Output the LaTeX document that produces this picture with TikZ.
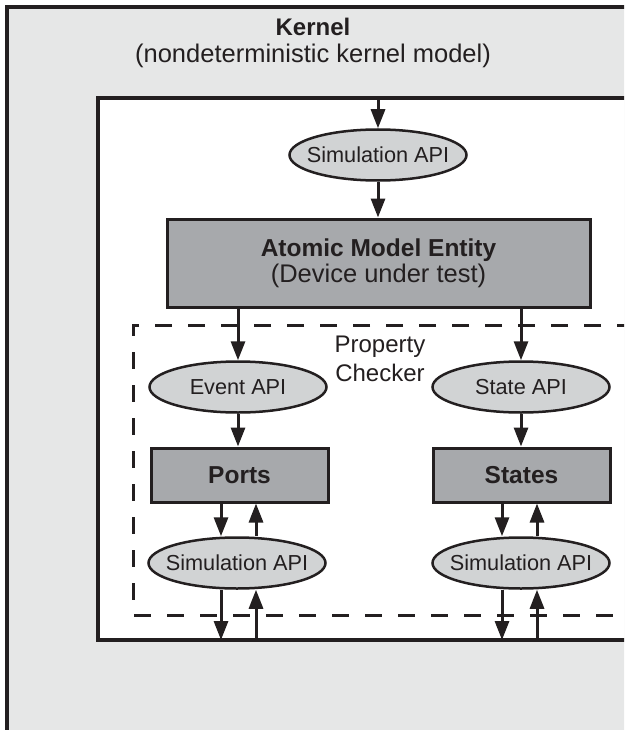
\documentclass[tikz,border=0pt]{standalone}
\usepackage{fontspec}
\setmainfont{Liberation Sans}
\usetikzlibrary{arrows.meta,shapes.geometric}
\definecolor{ink}{HTML}{231F20}
\definecolor{kernelgray}{HTML}{E6E7E7}
\definecolor{apigray}{HTML}{D1D3D4}
\definecolor{boxgray}{HTML}{A7A9AC}
% text that does not widen the ellipse around it
\newcommand{\apilabel}[1]{\makebox[0pt]{#1}}

\begin{document}
\begin{tikzpicture}[x=1pt,y=-1pt,
  every node/.style={text=ink,font=\fontsize{21.7}{26.5}\selectfont},
  api/.style={ellipse, draw=ink, line width=2.5pt, fill=apigray,
    minimum width=177pt, minimum height=51pt, inner sep=0pt},
  unit/.style={rectangle, draw=ink, line width=3pt, fill=boxgray, inner sep=0pt,
    font=\bfseries\fontsize{24.5}{26}\selectfont},
  flow/.style={draw=ink, line width=3pt, -{Triangle[length=19pt,width=14pt]}},
  frame/.style={draw=ink, line width=3.3pt},
  checkerline/.style={draw=ink, line width=3pt, dash pattern=on 17pt off 16pt},
]
\useasboundingbox (0,0) rectangle (624,730);

% kernel, simulator frame and property checker outline
\begin{scope}
  \clip (0,0) rectangle (624,730);
  \filldraw[frame, fill=kernelgray] (7,7) rectangle (700,800);
  \filldraw[frame, fill=white] (98,98) rectangle (700,640);
  \draw[checkerline] (700,325) -- (133,325) -- (133,615) -- (700,615);
\end{scope}

\node[anchor=base, font=\bfseries\fontsize{24}{26}\selectfont] (kernel) at (313,36) {Kernel};
\node[anchor=base, font=\fontsize{25.5}{26}\selectfont] (kerneldesc) at (313,63) {(nondeterministic kernel model)};

% device under test
\node[api] (simtop) at (378,155) {\apilabel{Simulation API}};
\node[unit, minimum width=423pt, minimum height=88pt, align=center] (dut) at (378.5,263)
  {Atomic Model Entity\\{\mdseries\fontsize{25.5}{26}\selectfont (Device under test)}};

% property checker
\node[align=center, font=\fontsize{24}{29}\selectfont] (checker) at (380,359) {Property\\Checker};
\node[api] (eventapi) at (238,387) {\apilabel{Event API}};
\node[api] (stateapi) at (521,387) {\apilabel{State API}};
\node[unit, minimum width=177pt, minimum height=54pt] (ports) at (239.5,475) {Ports};
\node[unit, minimum width=177pt, minimum height=54pt] (states) at (521.5,475) {States};
\node[api] (simports) at (237,563) {\apilabel{Simulation API}};
\node[api] (simstates) at (521,563) {\apilabel{Simulation API}};

% links to the kernel
\coordinate (kernelin) at (378,98);
\coordinate (portsout) at (221,640);
\coordinate (portsin) at (256,640);
\coordinate (statesout) at (502,640);
\coordinate (statesin) at (537,640);

% connectors
\draw[flow] (kernelin) -- (simtop.north);
\draw[flow] (simtop.south) -- (simtop.south |- dut.north);
\draw[flow] (eventapi |- dut.south) -- (eventapi.north);
\draw[flow] (stateapi |- dut.south) -- (stateapi.north);
\draw[flow] (eventapi.south) -- (eventapi.south |- ports.north);
\draw[flow] (stateapi.south) -- (stateapi.south |- states.north);

\draw[flow] ([xshift=-18.5pt]ports.south) -- ([xshift=-16pt]simports.north);
\draw[flow] ([xshift=19pt]simports.north) -- ([xshift=16.5pt]ports.south);
\draw[flow] ([xshift=-19.5pt]states.south) -- ([xshift=-19pt]simstates.north);
\draw[flow] ([xshift=16pt]simstates.north) -- ([xshift=15.5pt]states.south);

\draw[flow] ([xshift=-16pt]simports.south) -- (portsout);
\draw[flow] (portsin) -- ([xshift=19pt]simports.south);
\draw[flow] ([xshift=-19pt]simstates.south) -- (statesout);
\draw[flow] (statesin) -- ([xshift=16pt]simstates.south);
\end{tikzpicture}
\end{document}
